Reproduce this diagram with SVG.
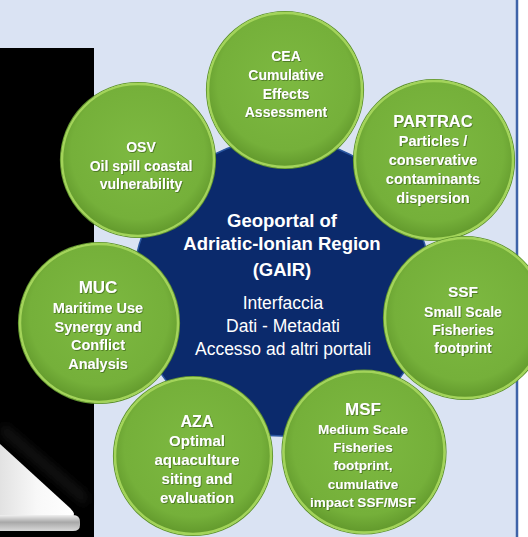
<svg xmlns="http://www.w3.org/2000/svg" width="528" height="537" viewBox="0 0 528 537">
<defs>
<style>
.t{font-family:"Liberation Sans",Arial,sans-serif;font-weight:bold;fill:#ffffff;text-anchor:middle;filter:url(#ts)}
.hub{font-family:"Liberation Sans",Arial,sans-serif;fill:#ffffff;text-anchor:middle}
.gc{fill:url(#gg);stroke:#a3d45a;stroke-width:2.5}
.go{fill:none;stroke:#5d922c;stroke-width:1.2}
</style>
<radialGradient id="gg" cx="50%" cy="45%" r="55%">
<stop offset="0" stop-color="#7db941"/>
<stop offset="0.8" stop-color="#75b03a"/>
<stop offset="1" stop-color="#62992c"/>
</radialGradient>
<linearGradient id="lapTop" x1="0" y1="0" x2="1" y2="0">
<stop offset="0" stop-color="#e2e2e2"/>
<stop offset="0.5" stop-color="#f8f8f8"/>
<stop offset="1" stop-color="#ffffff"/>
</linearGradient>
<linearGradient id="lapLip" x1="0" y1="0" x2="0" y2="1">
<stop offset="0" stop-color="#f0f0f0"/>
<stop offset="0.45" stop-color="#a8a8a8"/>
<stop offset="1" stop-color="#d8d8d8"/>
</linearGradient>
<filter id="ts" x="-10%" y="-30%" width="120%" height="160%">
<feDropShadow dx="0.8" dy="0.8" stdDeviation="0.6" flood-color="#2f4f12" flood-opacity="0.7"/>
</filter>
<filter id="blur" x="-50%" y="-50%" width="200%" height="200%">
<feGaussianBlur stdDeviation="5"/>
</filter>
</defs>

<g id="background">
<rect x="0" y="0" width="528" height="537" fill="#ffffff"/>
<rect x="0" y="0" width="517" height="537" fill="#dae3f3"/>
<line x1="517" y1="0" x2="517" y2="537" stroke="#3e63a8" stroke-width="2.5"/>
<rect x="0" y="48" width="94" height="489" fill="#000000"/>
<path d="M0,432 L86,506 L86,494 L4,424 Z" fill="#262626" opacity="0.6" filter="url(#blur)"/>
<path d="M0,444 L70,508 Q78,516 70,516 L0,516 Z" fill="url(#lapTop)"/>
<path d="M0,515 L73,515 Q80,515 80,522 L80,525 Q80,531 73,531 L0,531 Z" fill="url(#lapLip)"/>
</g>

<g id="connectors"></g>

<g id="hub">
<circle cx="282" cy="287" r="149" fill="#0b2a6c" stroke="#2a56a0" stroke-width="1.5"/>
<text class="hub" x="282" y="227" font-size="18.5" font-weight="bold">Geoportal of</text>
<text class="hub" x="282" y="250" font-size="18.5" font-weight="bold">Adriatic-Ionian Region</text>
<text class="hub" x="282" y="276" font-size="18.5" font-weight="bold">(GAIR)</text>
<text class="hub" x="283" y="309" font-size="17.5">Interfaccia</text>
<text class="hub" x="283" y="332" font-size="17.5">Dati - Metadati</text>
<text class="hub" x="283" y="355" font-size="17.5">Accesso ad altri portali</text>
</g>

<g id="CEA">
<circle class="go" cx="285" cy="90" r="78.5"/>
<circle class="gc" cx="285" cy="90" r="77"/>
<text class="t" font-size="14"><tspan x="286" y="61">CEA</tspan><tspan x="286" y="80">Cumulative</tspan><tspan x="286" y="99">Effects</tspan><tspan x="286" y="117">Assessment</tspan></text>
</g>

<g id="PARTRAC">
<circle class="go" cx="434" cy="160" r="80.5"/>
<circle class="gc" cx="434" cy="160" r="79"/>
<text class="t" font-size="16.5"><tspan x="433" y="127">PARTRAC</tspan></text>
<text class="t" font-size="14.5"><tspan x="433" y="146">Particles /</tspan><tspan x="433" y="165">conservative</tspan><tspan x="433" y="184">contaminants</tspan><tspan x="433" y="203">dispersion</tspan></text>
</g>

<g id="OSV">
<circle class="go" cx="138" cy="160" r="77.5"/>
<circle class="gc" cx="138" cy="160" r="76"/>
<text class="t" font-size="14"><tspan x="141" y="152">OSV</tspan><tspan x="141" y="170.5">Oil spill coastal</tspan><tspan x="141" y="189">vulnerability</tspan></text>
</g>

<g id="MUC">
<circle class="go" cx="99" cy="323" r="80.5"/>
<circle class="gc" cx="99" cy="323" r="79"/>
<text class="t" font-size="17"><tspan x="98" y="293">MUC</tspan></text>
<text class="t" font-size="14.5"><tspan x="98" y="312.5">Maritime Use</tspan><tspan x="98" y="331.5">Synergy and</tspan><tspan x="98" y="350">Conflict</tspan><tspan x="98" y="369">Analysis</tspan></text>
</g>

<g id="AZA">
<circle class="go" cx="193" cy="456" r="79.5"/>
<circle class="gc" cx="193" cy="456" r="78"/>
<text class="t" font-size="16"><tspan x="197" y="426.5">AZA</tspan></text>
<text class="t" font-size="15"><tspan x="197" y="445.5">Optimal</tspan><tspan x="197" y="465">aquaculture</tspan><tspan x="197" y="484">siting and</tspan><tspan x="197" y="503">evaluation</tspan></text>
</g>

<g id="MSF">
<circle class="go" cx="364" cy="452" r="82"/>
<circle class="gc" cx="364" cy="452" r="80.5"/>
<text class="t" font-size="17"><tspan x="363" y="415">MSF</tspan></text>
<text class="t" font-size="13.5"><tspan x="363" y="433.5">Medium Scale</tspan><tspan x="363" y="452">Fisheries</tspan><tspan x="363" y="470">footprint,</tspan><tspan x="363" y="488.5">cumulative</tspan><tspan x="363" y="506.5">impact SSF/MSF</tspan></text>
</g>

<g id="SSF">
<circle class="go" cx="465" cy="318" r="81.5"/>
<circle class="gc" cx="465" cy="318" r="80"/>
<text class="t" font-size="15.5"><tspan x="463" y="297">SSF</tspan></text>
<text class="t" font-size="14"><tspan x="463" y="316.5">Small Scale</tspan><tspan x="463" y="335">Fisheries</tspan><tspan x="463" y="353">footprint</tspan></text>
</g>
</svg>
